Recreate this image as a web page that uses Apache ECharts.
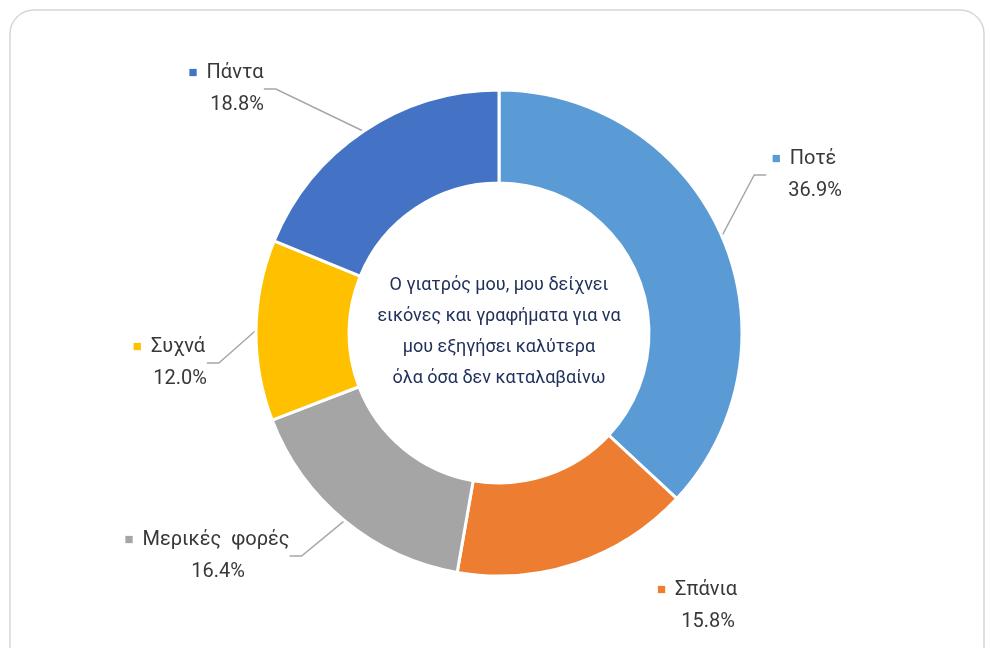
<!DOCTYPE html>
<html>
<head>
<meta charset="utf-8">
<title>Donut</title>
<script src="https://cdn.jsdelivr.net/npm/echarts@6/dist/echarts.min.js"></script>
<style>
  html, body { margin: 0; padding: 0; background: #fff; }
  #chart { width: 990px; height: 648px; }
</style>
</head>
<body>
<div id="chart"></div>
<script>
// data
const categories = ['Ποτέ', 'Σπάνια', 'Μερικές  φορές', 'Συχνά', 'Πάντα'];
const percents = [36.9, 15.8, 16.4, 12.0, 18.8];
const colors = ['#5B9BD5', '#ED7D31', '#A5A5A5', '#FFC000', '#4472C4'];
const centerText = 'Ο γιατρός μου, μου δείχνει\nεικόνες και γραφήματα για να\nμου εξηγήσει καλύτερα\nόλα όσα δεν καταλαβαίνω';

// where each label block sits (its centre), like in the excel export
const labelSpots = [[804, 175], [697, 606], [207, 556], [169, 363], [226, 89]];

const font = 'Roboto, "Liberation Sans", sans-serif';

const chart = echarts.init(document.getElementById('chart'));

const option = {
  animation: false,
  color: colors,
  graphic: [
    {
      type: 'rect',
      shape: { x: 10, y: 10, width: 974, height: 680, r: 24 },
      style: { fill: 'none', stroke: '#d6d6d6', lineWidth: 1.5 },
      z: -1
    },
    {
      type: 'text',
      x: 499,
      y: 332,
      style: {
        text: centerText,
        align: 'center',
        verticalAlign: 'middle',
        fill: '#22315C',
        font: '18px ' + font,
        lineHeight: 31
      }
    }
  ],
  series: [
    {
      type: 'pie',
      center: [499, 333],
      radius: [150, 243],
      startAngle: 90,
      clockwise: true,
      itemStyle: { borderColor: '#fff', borderWidth: 3 },
      label: {
        show: true,
        position: 'outside',
        fontFamily: font,
        color: '#404040',
        formatter: p => '{sq|■}{name|' + p.name + '}\n{pct|' + p.value.toFixed(1) + '%}',
        rich: {
          sq: { fontSize: 15, padding: [0, 9, 0, 0], fontFamily: font },
          name: { fontSize: 20, lineHeight: 32, fontFamily: font, color: '#383838' },
          pct: { fontSize: 20, lineHeight: 32, fontFamily: font, color: '#383838', padding: [0, 0, 0, 22] }
        }
      },
      labelLine: {
        show: true,
        length: 20,
        length2: 12,
        lineStyle: { color: '#a6a6a6', width: 1.4 }
      },
      labelLayout: params => ({
        x: labelSpots[params.dataIndex][0],
        y: labelSpots[params.dataIndex][1],
        align: 'center',
        verticalAlign: 'middle'
      }),
      data: categories.map((c, i) => ({
        name: c,
        value: percents[i],
        label: { rich: { sq: { color: colors[i] } } },
        labelLine: { show: i !== 1 }
      }))
    }
  ]
};

chart.setOption(option);
window.addEventListener('resize', () => chart.resize());
</script>
</body>
</html>
